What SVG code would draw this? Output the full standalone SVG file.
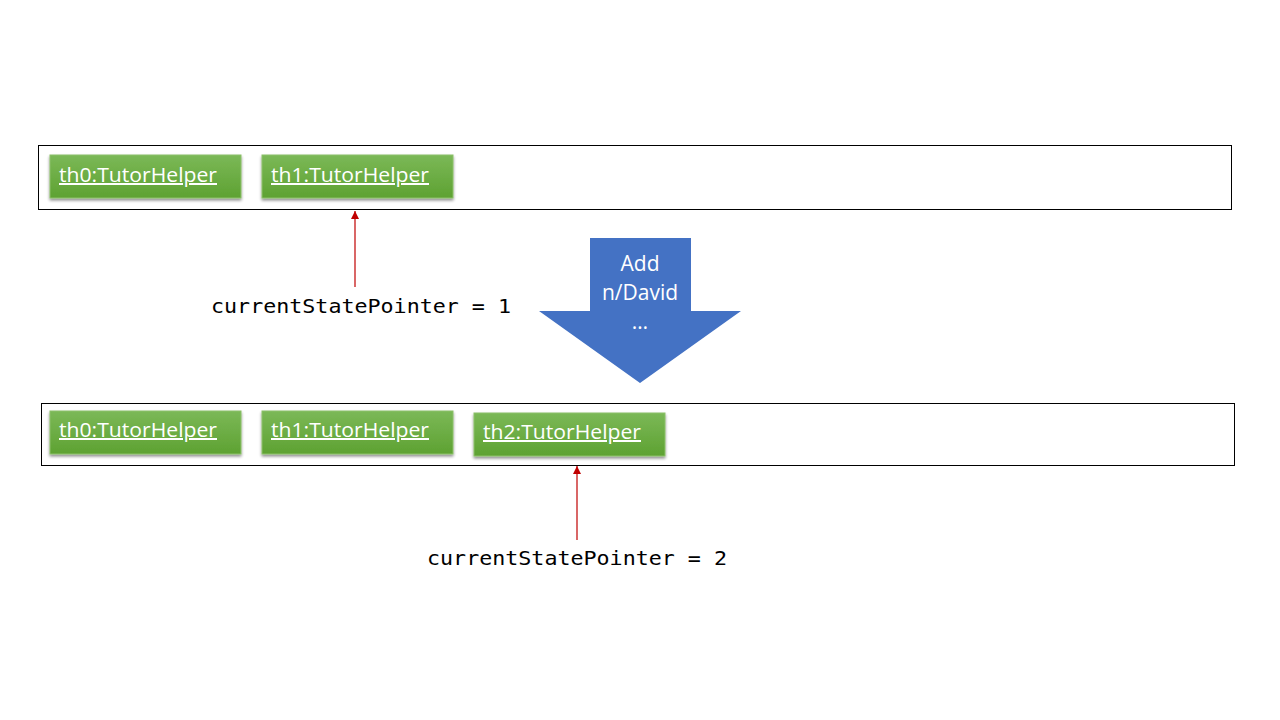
<svg xmlns="http://www.w3.org/2000/svg" width="1280" height="720" viewBox="0 0 1280 720">
<defs>
<linearGradient id="g" x1="0" y1="0" x2="0" y2="1">
<stop offset="0" stop-color="#7bb857"/>
<stop offset="1" stop-color="#5ea232"/>
</linearGradient>
<filter id="sh" x="-10%" y="-20%" width="120%" height="150%">
<feGaussianBlur in="SourceAlpha" stdDeviation="1.5"/>
<feOffset dx="0" dy="2" result="b"/>
<feComponentTransfer><feFuncA type="linear" slope="0.45"/></feComponentTransfer>
<feMerge><feMergeNode/><feMergeNode in="SourceGraphic"/></feMerge>
</filter>
<marker id="ah" viewBox="0 0 10 10" refX="10" refY="5" markerWidth="8" markerHeight="8" markerUnits="userSpaceOnUse" orient="auto">
<path d="M0,0 L10,5 L0,10 z" fill="#c00000"/>
</marker>
</defs>
<style>
.frame{fill:#fff;stroke:#000;stroke-width:1}
.node rect{fill:url(#g);stroke:#8cc06a;stroke-width:1;filter:url(#sh)}
.node text{font-family:"Open Sans","Liberation Sans",sans-serif;font-size:20px;fill:#fff;text-decoration:underline}
.ptr{stroke:#c00000;stroke-width:1.2;fill:none;marker-end:url(#ah)}
.lbl{font-family:"DejaVu Sans Mono","Liberation Mono",monospace;font-size:20px;fill:#000}
.big{fill:#4472c4}
.bigt{font-family:"Open Sans","Liberation Sans",sans-serif;font-size:21px;fill:#fff;text-anchor:middle}
</style>
<rect width="1280" height="720" fill="#fff"/>
<rect class="frame" x="38.5" y="145.5" width="1193" height="64"/>
<rect class="frame" x="41.5" y="403.5" width="1193" height="62"/>
<g id="top-th0" class="node"><rect x="50" y="155" width="191" height="43"/><text x="59" y="182" textLength="158" lengthAdjust="spacingAndGlyphs">th0:TutorHelper</text></g>
<g id="top-th1" class="node"><rect x="262" y="155" width="191" height="43"/><text x="271" y="182" textLength="158" lengthAdjust="spacingAndGlyphs">th1:TutorHelper</text></g>
<g id="bot-th0" class="node"><rect x="50" y="411" width="191" height="43"/><text x="59" y="437" textLength="158" lengthAdjust="spacingAndGlyphs">th0:TutorHelper</text></g>
<g id="bot-th1" class="node"><rect x="262" y="411" width="191" height="43"/><text x="271" y="437" textLength="158" lengthAdjust="spacingAndGlyphs">th1:TutorHelper</text></g>
<g id="bot-th2" class="node"><rect x="474" y="413" width="191" height="43"/><text x="483" y="439" textLength="158" lengthAdjust="spacingAndGlyphs">th2:TutorHelper</text></g>
<g id="add-arrow">
<polygon class="big" points="590,238 691,238 691,311 741,311 640,383 539,311 590,311"/>
<text class="bigt" x="640" y="271">Add</text>
<text class="bigt" x="640" y="300">n/David</text>
<text class="bigt" x="640" y="329">…</text>
</g>
<g id="connectors">
<line class="ptr" x1="355" y1="287" x2="355" y2="211"/>
<line class="ptr" x1="577" y1="540" x2="577" y2="466"/>
</g>
<g id="labels">
<text class="lbl" x="211" y="313" textLength="300" lengthAdjust="spacingAndGlyphs">currentStatePointer = 1</text>
<text class="lbl" x="427" y="565" textLength="300" lengthAdjust="spacingAndGlyphs">currentStatePointer = 2</text>
</g>
</svg>
